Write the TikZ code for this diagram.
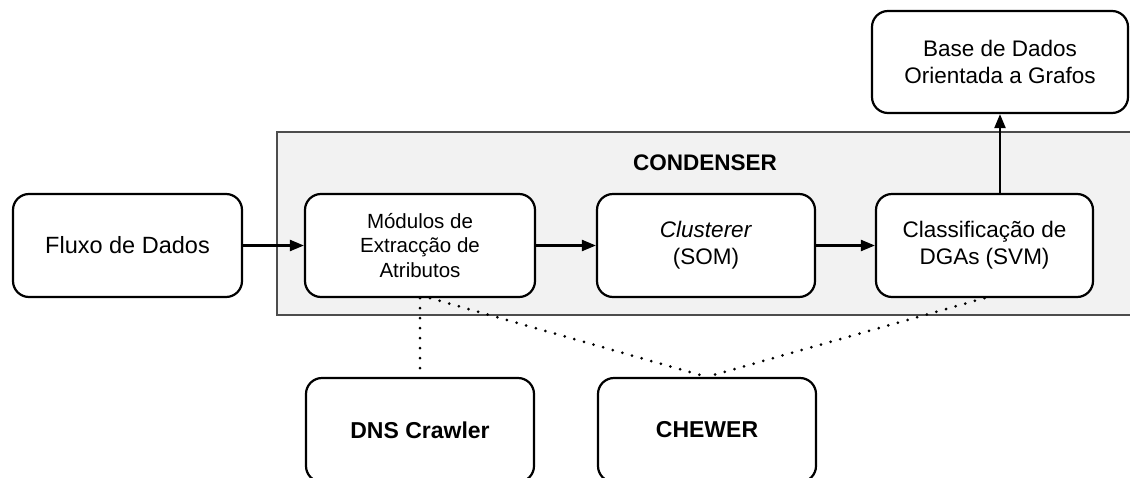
\documentclass[tikz,border=0pt]{standalone}
\usepackage{fontspec}
\setmainfont{Liberation Sans}
\usetikzlibrary{arrows.meta,calc}
\definecolor{panelfill}{HTML}{F2F2F2}
\definecolor{panelline}{HTML}{4D4D4D}
\begin{document}
\begin{tikzpicture}[x=1pt,y=-1pt,
  block/.style={draw=black,line width=2.2pt,rounded corners=16pt,fill=white,
    inner sep=0pt,align=center,font=\fontsize{22.5}{27}\selectfont},
  flow/.style={line width=2.2pt,-{Triangle[length=14pt,width=11pt]}},
  link/.style={line width=3pt,line cap=round,dash pattern=on 0pt off 10pt}]
  \useasboundingbox (0,0) rectangle (1130,477);
  \clip (0,0) rectangle (1130,477);
  % CONDENSER panel
  \draw[panelline,fill=panelfill,line width=1.2pt] (277,132) rectangle (1145,315);
  \node[font=\bfseries\fontsize{22.5}{27}\selectfont] (title) at (705,163) {CONDENSER};
  % blocks
  \node[block,minimum width=229pt,minimum height=103pt,font=\fontsize{23.5}{28}\selectfont] (fluxo) at (127.5,245.5) {Fluxo de Dados};
  \node[block,minimum width=230pt,minimum height=103pt,font=\fontsize{20.5}{24.5}\selectfont] (mod) at (420,245.5) {Módulos de\\Extracção de\\Atributos};
  \node[block,minimum width=218pt,minimum height=103pt] (clu) at (706,245.5) {\textit{Clusterer}\\(SOM)};
  \node[block,minimum width=217pt,minimum height=103pt] (cls) at (984.5,245.5) {Classificação de\\DGAs (SVM)};
  \node[block,minimum width=256pt,minimum height=102pt] (base) at (1000,62) {Base de Dados\\Orientada a Grafos};
  \node[block,minimum width=228pt,minimum height=104pt,font=\bfseries\fontsize{23}{27}\selectfont] (dns) at (420,430) {DNS Crawler};
  \node[block,minimum width=218pt,minimum height=104pt,font=\bfseries\fontsize{23}{27}\selectfont] (chew) at (707,430) {CHEWER};
  % data flow
  \draw[flow] (fluxo) -- (mod);
  \draw[flow] (mod) -- (clu);
  \draw[flow] (clu) -- (cls);
  \draw[flow] (base.south |- cls.north) -- (base.south);
  % auxiliary links
  \draw[link] (mod.south) -- (dns.north);
  \draw[link] ($(mod.south)+(10,0)$) -- (chew.north);
  \draw[link] (cls.south) -- (chew.north);
\end{tikzpicture}
\end{document}
